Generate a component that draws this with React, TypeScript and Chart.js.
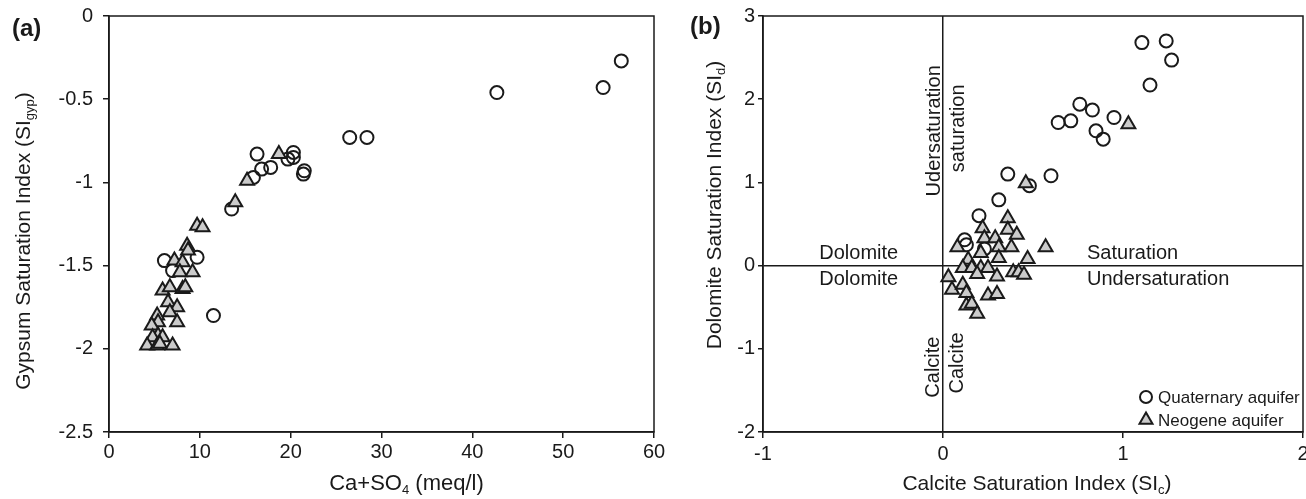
import React, { useEffect, useRef } from 'react';
import { Chart, registerables } from 'chart.js';

Chart.register(...registerables);

const FONT = "'Liberation Sans', Arial, Helvetica, sans-serif";
const INK = '#1a1a1a';
const TRI_FILL = '#cbcbcb';

// ---------- Panel (a): Gypsum SI vs Ca+SO4 ----------
const aQuatX = [56.4, 54.4, 42.7, 26.5, 28.4, 16.3, 20.3, 20.3, 19.7, 16.8, 17.8, 21.5, 21.4, 15.9, 13.5, 6.1, 9.7, 7.0, 11.5];
const aQuatY = [-0.27, -0.43, -0.46, -0.73, -0.73, -0.83, -0.82, -0.85, -0.86, -0.92, -0.91, -0.93, -0.95, -0.97, -1.16, -1.47, -1.45, -1.53, -1.80];
const aNeoX = [18.7, 15.2, 13.9, 9.7, 10.3, 8.6, 8.7, 7.2, 8.1, 7.8, 9.2, 5.9, 6.7, 8.1, 8.4, 6.5, 7.5, 6.7, 5.3, 5.4, 4.7, 7.5, 5.4, 4.8, 5.9, 4.2, 5.3, 5.6, 7.0];
const aNeoY = [-0.83, -0.99, -1.12, -1.26, -1.27, -1.38, -1.41, -1.47, -1.48, -1.54, -1.54, -1.65, -1.63, -1.64, -1.63, -1.72, -1.75, -1.78, -1.80, -1.84, -1.86, -1.84, -1.92, -1.93, -1.93, -1.98, -1.98, -1.97, -1.98];
const aXRange = [0, 60];
const aXStep = 10;
const aYRange = [-2.5, 0];
const aYStep = 0.5;

// ---------- Panel (b): Dolomite SI vs Calcite SI ----------
const bQuatX = [1.105, 1.24, 1.27, 1.15, 0.76, 0.83, 0.64, 0.71, 0.95, 0.85, 0.89, 0.36, 0.60, 0.48, 0.31, 0.20, 0.12, 0.13, 0.23];
const bQuatY = [2.68, 2.70, 2.47, 2.17, 1.94, 1.87, 1.72, 1.74, 1.78, 1.62, 1.52, 1.10, 1.08, 0.96, 0.79, 0.60, 0.31, 0.25, 0.20];
const bNeoX = [1.03, 0.46, 0.36, 0.22, 0.36, 0.41, 0.23, 0.29, 0.08, 0.31, 0.38, 0.57, 0.21, 0.14, 0.31, 0.47, 0.11, 0.16, 0.21, 0.25, 0.30, 0.19, 0.03, 0.39, 0.42, 0.45, 0.05, 0.11, 0.13, 0.25, 0.30, 0.13, 0.16, 0.19];
const bNeoY = [1.70, 0.99, 0.57, 0.45, 0.43, 0.37, 0.33, 0.33, 0.22, 0.22, 0.22, 0.22, 0.15, 0.07, 0.09, 0.08, -0.03, -0.03, -0.03, -0.03, -0.13, -0.10, -0.14, -0.08, -0.08, -0.11, -0.29, -0.23, -0.33, -0.36, -0.34, -0.48, -0.46, -0.58];
const bXRange = [-1, 2];
const bXStep = 1;
const bYRange = [-2, 3];
const bYStep = 1;

const seriesNames = ['Quaternary aquifer', 'Neogene aquifer'];

type Part = { t: string; sub?: boolean };

const pts = (xs: number[], ys: number[]) => xs.map((x, i) => ({ x, y: ys[i] }));

function drawRich(ctx: CanvasRenderingContext2D, parts: Part[], cx: number, cy: number, size: number, rotate: boolean, align: 'center' | 'left' = 'center', bold = false) {
  ctx.save();
  ctx.translate(cx, cy);
  if (rotate) ctx.rotate(-Math.PI / 2);
  const subSize = Math.round(size * 0.6);
  const fontOf = (p: Part) => `${bold ? 'bold ' : ''}${p.sub ? subSize : size}px ${FONT}`;
  let total = 0;
  const widths = parts.map((p) => {
    ctx.font = fontOf(p);
    const w = ctx.measureText(p.t).width;
    total += w;
    return w;
  });
  let x = align === 'center' ? -total / 2 : 0;
  ctx.textAlign = 'left';
  ctx.textBaseline = 'alphabetic';
  ctx.fillStyle = INK;
  const base = size * 0.36;
  parts.forEach((p, i) => {
    ctx.font = fontOf(p);
    ctx.fillText(p.t, x, p.sub ? base + size * 0.2 : base);
    x += widths[i];
  });
  ctx.restore();
}

function drawFrame(chart: any) {
  const { ctx, chartArea } = chart;
  ctx.save();
  ctx.strokeStyle = INK;
  ctx.lineWidth = 1.5;
  ctx.strokeRect(chartArea.left, chartArea.top, chartArea.right - chartArea.left, chartArea.bottom - chartArea.top);
  ctx.restore();
}

function makeDatasets(qx: number[], qy: number[], nx: number[], ny: number[]) {
  return [
    {
      label: seriesNames[0],
      data: pts(qx, qy),
      pointStyle: 'circle',
      pointRadius: 6.5,
      pointBorderWidth: 2,
      pointBorderColor: INK,
      pointBackgroundColor: 'rgba(255,255,255,0)',
      showLine: false,
      order: 1,
    },
    {
      label: seriesNames[1],
      data: pts(nx, ny),
      pointStyle: 'triangle',
      pointRadius: 8,
      pointBorderWidth: 2,
      pointBorderColor: INK,
      pointBackgroundColor: TRI_FILL,
      showLine: false,
      order: 0,
    },
  ];
}

function axis(opts: {
  horizontal: boolean;
  range: number[];
  step: number;
  size: number;
  tickLen: number;
  pad: number;
  zeroLine?: boolean;
}) {
  return {
    type: 'linear',
    min: opts.range[0],
    max: opts.range[1],
    ticks: {
      stepSize: opts.step,
      color: INK,
      font: { family: FONT, size: 20 },
      padding: opts.pad,
      callback: (v: any) => String(Math.round(Number(v) * 100) / 100),
    },
    grid: {
      drawOnChartArea: !!opts.zeroLine,
      color: (c: any) => (opts.zeroLine && c.tick && c.tick.value === 0 ? INK : 'rgba(0,0,0,0)'),
      lineWidth: 1.5,
      tickLength: opts.tickLen,
      tickColor: INK,
      tickWidth: 1.5,
    },
    border: { display: true, color: INK, width: 1.5 },
    afterFit: (s: any) => {
      if (opts.horizontal) {
        s.height = opts.size;
      } else {
        s.width = opts.size;
        s.paddingTop = 0;
        s.paddingBottom = 0;
      }
    },
  };
}

function PanelA() {
  const ref = useRef<HTMLCanvasElement>(null);
  useEffect(() => {
    const deco = {
      id: 'decoA',
      beforeDatasetsDraw(chart: any) {
        drawFrame(chart);
      },
      afterDraw(chart: any) {
        const { ctx, chartArea } = chart;
        const midX = (chartArea.left + chartArea.right) / 2;
        drawRich(ctx, [{ t: 'Ca+SO' }, { t: '4', sub: true }, { t: ' (meq/l)' }], midX + 25, 482, 22, false);
        drawRich(ctx, [{ t: 'Gypsum Saturation Index (SI' }, { t: 'gyp', sub: true }, { t: ')' }], 22, 241, 21, true);
        drawRich(ctx, [{ t: '(a)' }], 12, 27, 24, false, 'left', true);
      },
    };
    const chart = new Chart(ref.current as HTMLCanvasElement, {
      type: 'scatter',
      data: { datasets: makeDatasets(aQuatX, aQuatY, aNeoX, aNeoY) as any },
      options: {
        animation: false,
        responsive: false,
        events: [],
        layout: { padding: { top: 16, right: 26, left: 0, bottom: 0 } },
        plugins: { legend: { display: false }, tooltip: { enabled: false } },
        scales: {
          x: axis({ horizontal: true, range: aXRange, step: aXStep, size: 67, tickLen: 6, pad: 2 }) as any,
          y: axis({ horizontal: false, range: aYRange, step: aYStep, size: 109, tickLen: 6, pad: 10 }) as any,
        },
      },
      plugins: [deco],
    });
    return () => chart.destroy();
  }, []);
  return <canvas ref={ref} width={680} height={499} style={{ position: 'absolute', left: 0, top: 0, width: 680, height: 499 }} />;
}

function PanelB() {
  const ref = useRef<HTMLCanvasElement>(null);
  useEffect(() => {
    const deco = {
      id: 'decoB',
      beforeDatasetsDraw(chart: any) {
        drawFrame(chart);
      },
      afterDraw(chart: any) {
        const { ctx, chartArea, scales } = chart;
        const px = (v: number) => scales.x.getPixelForValue(v);
        const py = (v: number) => scales.y.getPixelForValue(v);
        const midX = (chartArea.left + chartArea.right) / 2;
        // axis titles
        drawRich(ctx, [{ t: 'Calcite Saturation Index (SI' }, { t: 'c', sub: true }, { t: ')' }], midX + 4, 482, 21, false);
        drawRich(ctx, [{ t: 'Dolomite Saturation Index (SI' }, { t: 'd', sub: true }, { t: ')' }], 53, 205, 21, true);
        drawRich(ctx, [{ t: '(b)' }], 30, 25, 24, false, 'left', true);
        // region annotations
        drawRich(ctx, [{ t: 'Dolomite' }], px(-0.468), py(0.16), 20, false);
        drawRich(ctx, [{ t: 'Dolomite' }], px(-0.468), py(-0.15), 20, false);
        drawRich(ctx, [{ t: 'Saturation' }], px(0.8), py(0.17), 20, false, 'left');
        drawRich(ctx, [{ t: 'Undersaturation' }], px(0.8), py(-0.15), 20, false, 'left');
        drawRich(ctx, [{ t: 'Udersaturation' }], px(-0.058), py(1.62), 20, true);
        drawRich(ctx, [{ t: 'saturation' }], px(0.075), py(1.65), 20, true);
        drawRich(ctx, [{ t: 'Calcite' }], px(-0.064), py(-1.22), 20, true);
        drawRich(ctx, [{ t: 'Calcite' }], px(0.07), py(-1.17), 20, true);
        // legend
        const lx = chartArea.right - 157;
        const ly1 = chartArea.bottom - 35;
        const ly2 = chartArea.bottom - 12;
        ctx.save();
        ctx.lineWidth = 2;
        ctx.strokeStyle = INK;
        ctx.beginPath();
        ctx.arc(lx, ly1, 6, 0, Math.PI * 2);
        ctx.stroke();
        const r = 7.5;
        ctx.beginPath();
        ctx.moveTo(lx, ly2 - r);
        ctx.lineTo(lx + r * 0.866, ly2 + r * 0.5);
        ctx.lineTo(lx - r * 0.866, ly2 + r * 0.5);
        ctx.closePath();
        ctx.fillStyle = TRI_FILL;
        ctx.fill();
        ctx.stroke();
        ctx.fillStyle = INK;
        ctx.font = `17px ${FONT}`;
        ctx.textAlign = 'left';
        ctx.textBaseline = 'middle';
        ctx.fillText(seriesNames[0], lx + 12, ly1 + 1);
        ctx.fillText(seriesNames[1], lx + 12, ly2 + 1);
        ctx.restore();
      },
    };
    const chart = new Chart(ref.current as HTMLCanvasElement, {
      type: 'scatter',
      data: { datasets: makeDatasets(bQuatX, bQuatY, bNeoX, bNeoY) as any },
      options: {
        animation: false,
        responsive: false,
        events: [],
        layout: { padding: { top: 16, right: 37, left: 0, bottom: 0 } },
        plugins: { legend: { display: false }, tooltip: { enabled: false } },
        scales: {
          x: axis({ horizontal: true, range: bXRange, step: bXStep, size: 67, tickLen: 6, pad: 4, zeroLine: true }) as any,
          y: axis({ horizontal: false, range: bYRange, step: bYStep, size: 103, tickLen: 5, pad: 3, zeroLine: true }) as any,
        },
      },
      plugins: [deco],
    });
    return () => chart.destroy();
  }, []);
  return <canvas ref={ref} width={680} height={499} style={{ position: 'absolute', left: 660, top: 0, width: 680, height: 499 }} />;
}

export default function App() {
  return (
    <div style={{ position: 'fixed', left: 0, top: 0, width: 1306, height: 499, background: '#ffffff', overflow: 'hidden' }}>
      <PanelA />
      <PanelB />
    </div>
  );
}
